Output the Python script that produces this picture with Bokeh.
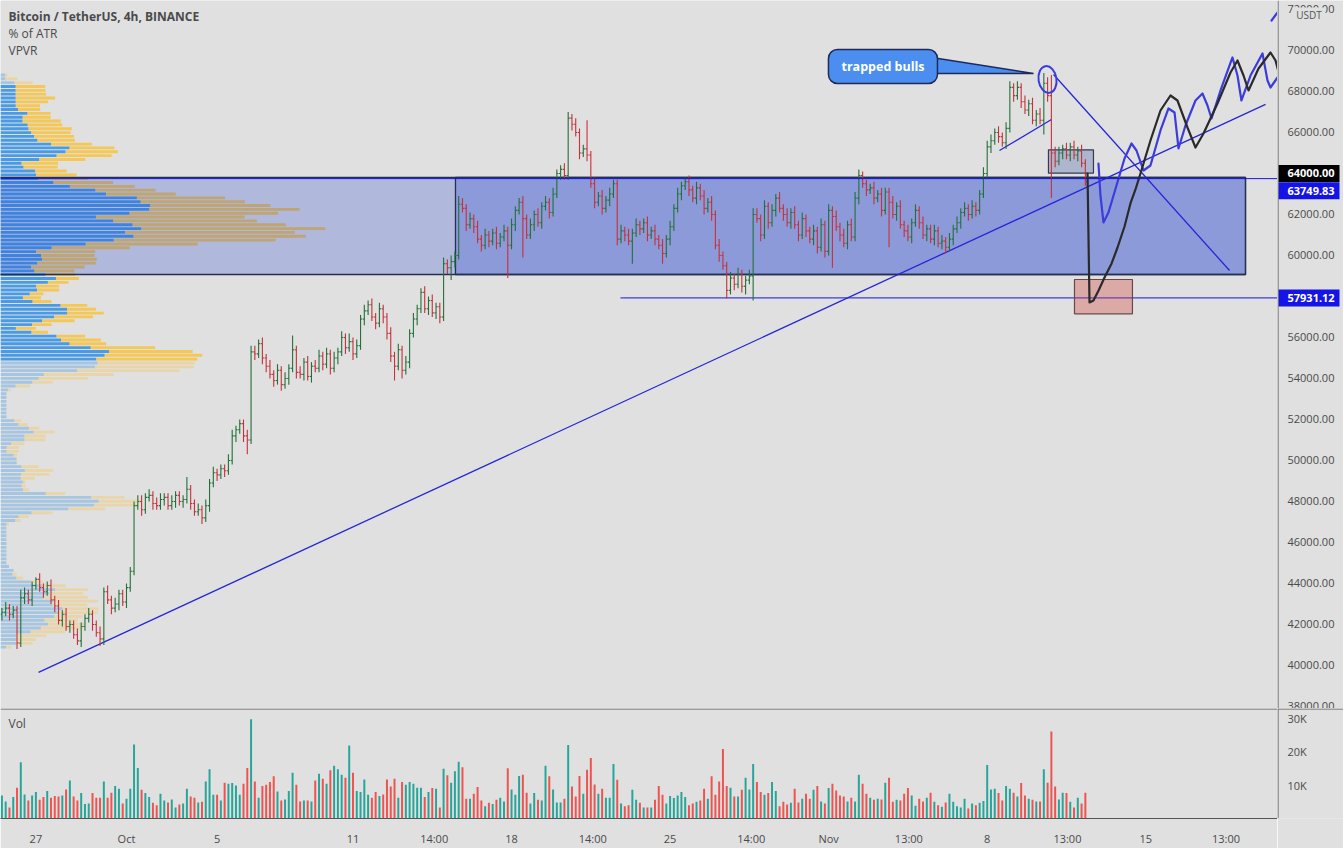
import numpy as np
from bokeh.plotting import figure
from bokeh.models import Range1d, FixedTicker, Label, ColumnDataSource, Span
from bokeh.layouts import column, row
from bokeh.embed import file_html
from bokeh.resources import INLINE

# ------------------------------------------------------------------ data
# time axis: hours from 1 Oct 00:00, one bar every 4 hours
bar_start_hour = -132
bar_step_hours = 4
open_first_k = 42.5

close_k = [
    42.6, 42.8, 42.5, 42.7, 41.1, 43.3, 43.5, 43.2, 43.9, 44.2,
    43.8, 43.6, 43.9, 43.2, 42.9, 42.2, 42.5, 41.9, 42.0, 41.5,
    41.2, 41.9, 42.3, 42.5, 42.0, 41.6, 41.3, 43.6, 43.2, 42.8,
    43.0, 43.5, 43.1, 43.8, 44.6, 47.8, 48.0, 47.6, 48.2, 48.3,
    47.9, 47.8, 48.1, 48.2, 47.8, 48.0, 48.3, 48.0, 48.1, 48.6,
    47.9, 47.5, 47.6, 47.2, 47.8, 48.9, 49.4, 49.3, 49.6, 49.5,
    50.0, 51.2, 51.5, 51.8, 51.2, 51.0, 55.3, 55.2, 55.7, 55.0,
    54.6, 54.2, 53.9, 54.4, 53.7, 54.0, 54.5, 55.4, 54.3, 54.2,
    54.8, 54.1, 54.6, 54.5, 55.1, 54.7, 55.2, 54.5, 55.0, 55.3,
    56.0, 55.5, 55.8, 55.2, 55.6, 56.9, 57.3, 57.6, 57.0, 56.7,
    57.4, 57.0, 56.2, 55.1, 54.6, 55.4, 54.4, 54.8, 56.2, 56.9,
    57.4, 58.2, 57.4, 57.8, 57.2, 57.5, 57.0, 59.6, 59.4, 59.7,
    60.0, 62.5, 62.3, 61.5, 61.8, 61.4, 60.8, 60.5, 61.0, 60.7,
    61.1, 60.6, 60.9, 61.2, 60.5, 61.5, 62.2, 62.6, 61.8, 61.0,
    61.5, 62.0, 61.6, 62.4, 62.6, 62.1, 63.0, 64.0, 64.2, 63.9,
    66.7, 66.4, 66.0, 65.0, 65.2, 64.9, 63.5, 62.6, 62.9, 62.3,
    62.7, 63.0, 63.5, 60.8, 61.2, 61.0, 60.7, 61.1, 61.5, 61.3,
    61.6, 61.0, 61.2, 60.8, 60.5, 60.1, 60.8, 61.4, 62.3, 63.0,
    63.4, 63.6, 63.2, 62.8, 63.3, 62.9, 62.3, 62.6, 62.0, 60.5,
    60.0, 59.5, 58.3, 58.9, 58.6, 59.1, 58.5, 58.8, 59.0, 62.0,
    61.8, 61.0, 62.4, 61.6, 62.2, 62.8, 62.3, 62.0, 61.6, 62.1,
    61.5, 61.0, 61.8, 61.2, 60.8, 61.2, 60.4, 61.5, 60.2, 62.2,
    61.9, 61.4, 61.0, 60.6, 61.5, 60.9, 62.8, 63.9, 63.5, 63.2,
    63.3, 62.8, 63.0, 62.2, 63.1, 62.6, 62.0, 62.4, 61.5, 61.2,
    60.9, 61.6, 62.2, 61.6, 61.0, 61.3, 60.8, 61.2, 60.6, 60.7,
    60.4, 60.8, 61.3, 61.6, 62.1, 62.3, 62.0, 62.4, 62.2, 63.0,
    64.0, 65.3, 65.6, 66.0, 65.8, 65.5, 66.2, 68.2, 67.8, 68.2,
    67.5, 67.1, 67.4, 66.6, 66.9, 66.6, 68.4, 67.8, 65.0, 64.6,
    65.0, 65.2, 64.9, 65.3, 64.9, 65.1, 64.5, 63.6,
]

wick_up_k = [
    0.2, 0.3, 0.2, 0.2, 0.2, 0.4, 0.3, 0.2, 0.2, 0.1,
    0.3, 0.2, 0.2, 0.3, 0.2, 0.3, 0.2, 0.3, 0.2, 0.2,
    0.3, 0.2, 0.2, 0.3, 0.2, 0.2, 0.3, 0.2, 0.3, 0.2,
    0.3, 0.2, 0.2, 0.2, 0.2, 0.2, 0.3, 0.3, 0.2, 0.3,
    0.2, 0.3, 0.3, 0.2, 0.2, 0.3, 0.2, 0.2, 0.2, 0.6,
    0.2, 0.2, 0.3, 0.2, 0.3, 0.2, 0.3, 0.2, 0.2, 0.2,
    0.3, 0.3, 0.2, 0.2, 0.2, 0.3, 0.3, 0.3, 0.2, 0.3,
    0.2, 0.3, 0.2, 0.3, 0.2, 0.3, 0.2, 0.7, 0.2, 0.3,
    0.2, 0.3, 0.2, 0.3, 0.3, 0.2, 0.3, 0.2, 0.3, 0.2,
    0.3, 0.2, 0.4, 0.2, 0.3, 0.2, 0.3, 0.2, 0.3, 0.2,
    0.3, 0.2, 0.2, 0.3, 0.2, 0.3, 0.2, 0.3, 0.2, 0.3,
    0.2, 0.2, 0.3, 0.2, 0.3, 0.2, 0.2, 0.3, 0.2, 0.3,
    0.2, 0.4, 0.3, 0.2, 0.3, 0.2, 0.3, 0.2, 0.3, 0.2,
    0.2, 0.3, 0.2, 0.3, 0.2, 0.3, 0.2, 0.2, 0.3, 0.2,
    0.3, 0.2, 0.3, 0.2, 0.3, 0.2, 0.3, 0.2, 0.2, 0.3,
    0.3, 0.2, 0.3, 0.2, 0.2, 1.4, 0.2, 0.3, 0.2, 0.3,
    0.2, 0.3, 0.2, 0.2, 0.3, 0.2, 0.3, 0.2, 0.3, 0.2,
    0.2, 0.3, 0.2, 0.3, 0.2, 0.3, 0.2, 0.3, 0.2, 0.3,
    0.2, 0.2, 0.3, 0.2, 0.3, 0.2, 0.3, 0.2, 0.3, 0.2,
    0.3, 0.2, 0.2, 0.3, 0.2, 0.3, 0.2, 0.2, 0.3, 0.3,
    0.3, 0.2, 0.3, 0.2, 0.3, 0.2, 0.3, 0.2, 0.3, 0.2,
    0.3, 0.2, 0.3, 0.2, 0.2, 0.3, 0.2, 0.3, 0.2, 0.3,
    0.2, 0.3, 0.2, 0.3, 0.2, 0.3, 0.3, 0.3, 0.2, 0.2,
    0.2, 0.3, 0.2, 0.3, 0.2, 0.2, 0.3, 0.2, 0.3, 0.2,
    0.3, 0.2, 0.3, 0.2, 0.3, 0.2, 0.2, 0.3, 0.2, 0.3,
    0.2, 0.3, 0.2, 0.3, 0.2, 0.3, 0.2, 0.3, 0.2, 0.2,
    0.3, 0.3, 0.3, 0.2, 0.3, 0.2, 0.3, 0.3, 0.2, 0.3,
    0.2, 0.3, 0.2, 0.3, 0.2, 0.3, 0.5, 0.3, 1.0, 0.3,
    0.3, 0.2, 0.3, 0.2, 0.3, 0.2, 0.3, 0.2,
]

wick_dn_k = [
    0.3, 0.2, 0.3, 0.2, 0.3, 0.2, 0.3, 0.2, 0.3, 0.2,
    0.2, 0.3, 0.2, 0.2, 0.3, 0.2, 0.3, 0.2, 0.3, 0.2,
    0.2, 0.3, 0.2, 0.2, 0.3, 0.2, 0.35, 0.3, 0.2, 0.3,
    0.2, 0.3, 0.2, 0.3, 0.2, 0.2, 0.2, 0.3, 0.2, 0.2,
    0.3, 0.2, 0.2, 0.3, 0.2, 0.2, 0.3, 0.2, 0.3, 0.2,
    0.3, 0.2, 0.2, 0.3, 0.2, 0.3, 0.2, 0.3, 0.2, 0.3,
    0.2, 0.2, 0.3, 0.2, 0.3, 0.7, 0.2, 0.3, 0.2, 0.3,
    0.3, 0.2, 0.3, 0.2, 0.3, 0.2, 0.3, 0.2, 0.3, 0.2,
    0.3, 0.2, 0.3, 0.2, 0.2, 0.3, 0.2, 0.3, 0.2, 0.3,
    0.2, 0.3, 0.2, 0.3, 0.2, 0.2, 0.3, 0.2, 0.2, 0.3,
    0.2, 0.3, 0.3, 0.3, 0.7, 0.2, 0.4, 0.2, 0.3, 0.2,
    0.3, 0.2, 0.2, 0.3, 0.2, 0.3, 0.3, 0.2, 0.3, 0.6,
    0.3, 0.2, 0.2, 0.3, 0.2, 0.3, 0.2, 0.3, 0.2, 0.3,
    0.2, 0.3, 0.2, 0.2, 1.6, 0.2, 0.3, 0.2, 1.9, 0.2,
    0.2, 0.3, 0.2, 0.3, 0.2, 0.3, 0.2, 0.2, 0.3, 0.2,
    0.2, 0.3, 0.2, 0.3, 0.2, 0.3, 0.2, 0.3, 0.2, 0.3,
    0.2, 0.3, 0.2, 0.3, 0.2, 0.3, 0.2, 1.1, 0.2, 0.3,
    0.2, 0.3, 0.2, 0.3, 0.2, 0.5, 0.2, 0.3, 0.2, 0.2,
    0.3, 0.2, 0.3, 0.2, 0.3, 0.2, 0.3, 0.2, 0.3, 0.2,
    0.3, 0.2, 0.4, 0.2, 0.3, 0.2, 0.3, 0.4, 0.2, 1.2,
    0.2, 0.3, 0.2, 0.3, 0.2, 0.3, 0.2, 0.3, 0.2, 0.3,
    0.2, 0.3, 0.2, 0.3, 0.2, 0.3, 0.3, 0.2, 0.3, 0.2,
    2.5, 0.2, 0.3, 0.2, 0.3, 0.2, 0.2, 0.3, 0.2, 0.3,
    0.2, 0.3, 0.2, 0.3, 0.2, 2.2, 0.2, 0.3, 0.2, 0.3,
    0.2, 0.3, 0.2, 0.3, 0.2, 0.3, 0.2, 0.3, 0.2, 0.3,
    0.3, 0.2, 0.3, 0.2, 0.3, 0.2, 0.3, 0.2, 0.3, 0.2,
    0.2, 0.2, 0.3, 0.2, 0.3, 0.2, 0.3, 0.2, 0.3, 0.2,
    0.3, 0.2, 0.3, 0.2, 0.3, 0.2, 0.7, 0.3, 2.2, 0.3,
    0.2, 0.3, 0.2, 0.3, 0.2, 0.3, 0.2, 0.2,
]

volume_k = [
    6.9, 5.1, 3.3, 6.4, 9.2, 16.8, 7.2, 5.4, 6.9, 7.9,
    5.6, 6.4, 8.2, 6.2, 6.7, 6.6, 6.9, 8.7, 11.4, 6.6,
    5.4, 7.6, 4.3, 4.5, 7.6, 6.2, 6.2, 11.1, 6.2, 7.7,
    9.7, 8.9, 4.5, 5.9, 8.9, 22.1, 15.1, 8.6, 7.6, 6.4,
    4.7, 4.0, 7.4, 5.4, 4.8, 5.7, 3.3, 4.2, 4.5, 8.9,
    6.6, 6.2, 4.8, 5.0, 11.1, 14.7, 7.1, 7.1, 5.4, 10.7,
    10.4, 10.6, 9.9, 7.1, 10.4, 15.1, 29.7, 11.1, 6.2, 9.7,
    10.1, 10.9, 12.6, 8.1, 5.4, 5.7, 8.2, 13.7, 10.1, 5.1,
    5.4, 5.4, 5.1, 11.4, 13.4, 11.9, 10.4, 14.4, 15.8, 14.7,
    13.1, 12.2, 21.8, 13.7, 8.2, 7.9, 11.7, 7.1, 6.2, 7.9,
    6.7, 7.2, 11.7, 9.6, 11.9, 6.2, 10.9, 10.1, 10.9, 10.4,
    9.2, 9.2, 6.4, 7.9, 9.1, 8.9, 3.3, 14.9, 12.9,
    10.7, 14.1, 17.0, 15.3, 5.9, 5.9, 7.4, 9.4, 5.4, 3.7,
    4.7, 4.3, 5.6, 6.2, 5.1, 15.0, 8.7, 7.1, 12.7, 13.1,
    7.7, 4.5, 7.6, 5.6, 5.4, 15.8, 12.6, 8.7, 4.8, 4.8,
    5.9, 22.0, 9.6, 6.6, 12.7, 7.4, 14.6, 18.1, 10.2, 7.4,
    8.9, 6.2, 6.2, 16.3, 11.6, 4.5, 3.7, 4.0, 8.6, 5.6,
    4.7, 3.3, 3.3, 3.3, 5.6, 9.7, 7.1, 4.5, 6.7, 6.1,
    6.9, 7.9, 6.4, 4.0, 4.5, 5.0, 5.4, 8.9, 5.9, 12.6,
    7.1, 11.1, 20.8, 9.7, 9.2, 6.6, 6.6, 8.6, 12.2, 8.7,
    16.3, 10.9, 7.9, 7.1, 7.6, 10.9, 8.2, 3.7, 5.0, 4.2,
    4.7, 8.9, 4.8, 5.9, 7.4, 5.9, 8.6, 9.7, 5.1, 4.5,
    9.1, 10.4, 8.4, 6.9, 6.6, 5.1, 6.2, 5.1, 13.1, 10.4,
    7.4, 6.2, 5.6, 5.9, 5.7, 10.7, 12.2, 5.0, 5.6,
    5.4, 7.4, 9.1, 6.9, 3.8, 5.9, 5.1, 6.2, 7.7, 5.0,
    4.0, 3.5, 4.8, 7.4, 5.0, 3.7, 3.3, 5.9, 3.0, 4.5,
    4.0, 4.7, 5.2, 16.0, 8.7, 8.9, 7.6, 5.4, 9.7, 8.9,
    7.7, 6.6, 10.6, 6.9, 5.9, 5.6, 5.1, 5.1, 14.7, 10.7,
    26.0, 9.6, 5.7, 7.7, 7.6, 5.0, 3.3, 6.2, 4.5, 7.7,
]

price_ticks = [38000, 40000, 42000, 44000, 46000, 48000, 50000, 52000, 54000,
               56000, 60000, 62000, 66000, 68000, 70000, 72000]
x_tick_hours = [-96, 0, 96, 240, 326, 408, 494, 576, 662, 744, 829, 912, 997, 1080, 1165]
x_tick_labels = ["27", "Oct", "5", "11", "14:00", "18", "14:00", "25", "14:00", "Nov",
                 "13:00", "8", "13:00", "15", "13:00"]
vol_ticks = [10000, 20000, 30000]
vol_tick_labels = ["10K", "20K", "30K"]
currency_label = "USDT"

round_level = 64000.00
range_high_level = 63749.83
support_level = 57931.12

# drawings (hours, price)
trend_long_h = [-93.2, 1206.9]
trend_long_p = [39660, 67370]
trend_small_h = [925.0, 980.1]
trend_small_p = [65122, 66634]
trend_down_h = [982.3, 1168.8]
trend_down_p = [68829, 59268]
support_start_h = 523.4
zone_outer_h = [-200.0, 1185.7]
zone_inner_h = [348.6, 1185.7]
zone_p = [59073, 63805]
consol_h = [976.9, 1024.6]
consol_p = [64015, 65156]
target_h = [1004.5, 1065.9]
target_p = [57156, 58829]
callout_h = [743.8, 859.3]
callout_p = [68390, 70049]
callout_tail_h = [846.6, 961.1, 846.6]
callout_tail_p = [69707, 68878, 68878]
callout_text = "trapped bulls"
callout_text_hp = [801.6, 69219]
circle_hp = [975.9, 68585]
circle_size = [19.0, 1320]
black_path_h = [1018.3, 1020.4, 1024.6, 1030.0, 1036.3, 1043.8, 1050.1, 1057.5, 1063.8,
                1069.1, 1074.4, 1085.0, 1095.6, 1106.2, 1113.6, 1124.2, 1132.7, 1141.2,
                1156.0, 1169.8, 1177.2, 1183.6, 1188.9, 1199.5, 1212.2, 1217.5, 1221.7]
black_path_p = [64000, 57707, 57805, 58290, 58927, 59610, 60390, 61415, 62537,
                63220, 64000, 65610, 67073, 67805, 67561, 66244, 65268, 65951,
                67415, 68927, 69512, 68780, 68049, 69122, 69902, 69512, 68780]
blue_path_h = [1029.9, 1032.0, 1035.2, 1040.5, 1049.0, 1057.5, 1064.9, 1070.2, 1077.6,
               1085.0, 1095.6, 1104.1, 1110.5, 1114.7, 1122.1, 1132.7, 1140.1, 1145.4,
               1149.7, 1159.2, 1171.9, 1177.2, 1181.4, 1191.0, 1203.7, 1209.0, 1212.2, 1219.6]
blue_path_p = [64488, 62927, 61610, 62098, 63415, 64732, 65463, 65122, 64146,
               64390, 66098, 67171, 66976, 65220, 66341, 67561, 67902, 67317,
               66683, 68049, 69659, 68780, 67561, 68780, 69854, 68537, 68195, 68683]
blue_top_h = [1213.3, 1222.8]
blue_top_p = [71463, 72049]

vp_rows = 150
value_area_share = 0.70

# ------------------------------------------------------------------ style
BG = "#e0e0e0"
PLOT_W = 1277
SCALE_W = 66
PRICE_H = 708
VOL_H = 140
VOL_AXIS_H = 28
FONT = "Open Sans"
AXIS_TXT = "#4a4a4a"
LINE_GREY = "#555555"
UP_BAR = "#23703a"
DN_BAR = "#c8303a"
UP_VOL = "#26a69a"
DN_VOL = "#ef5350"
DRAW_BLUE = "#2626d9"
LEVEL_BLUE = "#1414e6"
TAG_SHIFT_PX = [0, -12, 0]      # price tags pushed apart on the scale

X_START, X_END = -133.5, 1219.6
P_START, P_END = 37902, 72439
V_END = 32900
x_range = Range1d(X_START, X_END)
price_range = Range1d(P_START, P_END)
vol_range = Range1d(0, V_END)
price_per_px = (P_END - P_START) / PRICE_H
vol_per_px = V_END / (VOL_H - VOL_AXIS_H)

# ------------------------------------------------------------------ derived series
n = len(close_k)
assert len(wick_up_k) == n and len(wick_dn_k) == n and len(volume_k) == n
xs = bar_start_hour + bar_step_hours * np.arange(n)
close = np.array(close_k) * 1000.0
opn = np.concatenate([[open_first_k], close_k[:-1]]) * 1000.0
high = np.maximum(opn, close) + np.array(wick_up_k) * 1000.0
low = np.minimum(opn, close) - np.array(wick_dn_k) * 1000.0
vol = np.array(volume_k) * 1000.0
up = close >= opn

# volume profile of the visible range, built from the bars
edges = np.linspace(low.min(), high.max(), vp_rows + 1)
ov = np.clip(np.minimum(high[:, None], edges[None, 1:]) - np.maximum(low[:, None], edges[None, :-1]), 0, None)
share = ov / (high - low)[:, None] * vol[:, None]
vp_up = (share * up[:, None]).sum(axis=0)
vp_dn = (share * (~up)[:, None]).sum(axis=0)
vp_tot = vp_up + vp_dn
poc = int(np.argmax(vp_tot))
lo_i = hi_i = poc
acc = vp_tot[poc]
target = value_area_share * vp_tot.sum()
while acc < target:
    a = vp_tot[hi_i + 1] if hi_i + 1 < vp_rows else -1
    b = vp_tot[lo_i - 1] if lo_i > 0 else -1
    if a >= b:
        hi_i += 1
        acc += a
    else:
        lo_i -= 1
        acc += b
idx = np.arange(vp_rows)
in_va = (idx >= lo_i) & (idx <= hi_i)
VP_MAX_HOURS = 344.0
scale = VP_MAX_HOURS / vp_tot.max()
row_h = edges[1] - edges[0]
vp_src = ColumnDataSource(dict(
    y=(edges[:-1] + edges[1:]) / 2,
    l0=np.full(vp_rows, X_START),
    m=X_START + vp_up * scale,
    r=X_START + vp_tot * scale,
    a=np.where(in_va, 0.78, 0.30),
))


def bare(width, height, xr, yr, bottom=0):
    f = figure(width=width, height=height, output_backend="svg", toolbar_location=None,
               x_range=xr, y_range=yr, x_axis_location=None, y_axis_location=None,
               min_border_left=0, min_border_right=0, min_border_top=0, min_border_bottom=bottom,
               background_fill_color=BG, border_fill_color=BG)
    f.outline_line_color = None
    f.grid.grid_line_color = None
    return f


# ------------------------------------------------------------------ price pane
p = bare(PLOT_W, PRICE_H, x_range, price_range)

# VPVR
p.hbar(y="y", height=row_h * 0.75, left="l0", right="m", source=vp_src,
       fill_color="#1e88e5", fill_alpha="a", line_color=None)
p.hbar(y="y", height=row_h * 0.75, left="m", right="r", source=vp_src,
       fill_color="#fbc02d", fill_alpha="a", line_color=None)

# zones
p.quad(left=zone_outer_h[0], right=zone_outer_h[1], bottom=zone_p[0], top=zone_p[1],
       fill_color="#2040d0", fill_alpha=0.25, line_color="#25304f", line_width=1.3)
p.quad(left=zone_inner_h[0], right=zone_inner_h[1], bottom=zone_p[0], top=zone_p[1],
       fill_color="#2040d0", fill_alpha=0.25, line_color="#25304f", line_width=1.3)
p.quad(left=consol_h[0], right=consol_h[1], bottom=consol_p[0], top=consol_p[1],
       fill_color="#2a4a9a", fill_alpha=0.28, line_color="#333a55", line_width=1.2)

# horizontal levels
p.add_layout(Span(location=range_high_level, dimension="width", line_color=LEVEL_BLUE, line_width=1))
p.segment(x0=[support_start_h], y0=[support_level], x1=[X_END + 50], y1=[support_level],
          line_color=LEVEL_BLUE, line_width=1)
p.quad(left=target_h[0], right=target_h[1], bottom=target_p[0], top=target_p[1],
       fill_color="#d4463a", fill_alpha=0.35, line_color="#6b4848", line_width=1.2)

# trend lines
p.line(trend_long_h, trend_long_p, line_color=DRAW_BLUE, line_width=1.3)
p.line(trend_small_h, trend_small_p, line_color=DRAW_BLUE, line_width=1.3)
p.line(trend_down_h, trend_down_p, line_color=DRAW_BLUE, line_width=1.3)

# OHLC bars
bar_src = ColumnDataSource(dict(
    x=xs, lo=low, hi=high, o=opn, c=close,
    xl=xs - 1.7, xr=xs + 1.7,
    col=np.where(up, UP_BAR, DN_BAR),
))
p.segment(x0="x", y0="lo", x1="x", y1="hi", line_color="col", line_width=1.1, source=bar_src)
p.segment(x0="xl", y0="o", x1="x", y1="o", line_color="col", line_width=1.1, source=bar_src)
p.segment(x0="x", y0="c", x1="xr", y1="c", line_color="col", line_width=1.1, source=bar_src)

# forecast sketches
p.line(blue_path_h, blue_path_p, line_color="#3c3cdc", line_width=2.2, line_join="round", line_cap="round")
p.line(blue_top_h, blue_top_p, line_color="#3c3cdc", line_width=2.2, line_cap="round")
p.line(black_path_h, black_path_p, line_color="#2a2a2a", line_width=2.2, line_join="round", line_cap="round")
p.ellipse(x=[circle_hp[0]], y=[circle_hp[1]], width=circle_size[0], height=circle_size[1],
          angle=0.15, fill_color=None, line_color="#3c3cdc", line_width=2)

# callout
p.patch(callout_tail_h, callout_tail_p, fill_color="#4b8ef0", line_color="#1e2a5c", line_width=1.5)
p.quad(left=callout_h[0], right=callout_h[1], bottom=callout_p[0], top=callout_p[1],
       fill_color="#4b8ef0", line_color="#1e2a5c", line_width=1.5, border_radius=9)
p.add_layout(Label(x=callout_text_hp[0], y=callout_text_hp[1], text=callout_text,
                   text_color="white", text_font=FONT, text_font_size="12.5px",
                   text_font_style="bold", text_align="center", text_baseline="middle"))

# legend texts
for i, (t, sz, st) in enumerate([("Bitcoin / TetherUS, 4h, BINANCE", "12px", "bold"),
                                  ("% of ATR", "12px", "normal"), ("VPVR", "12px", "normal")]):
    p.add_layout(Label(x=8, y=PRICE_H - 16 - 17 * i, x_units="screen", y_units="screen", text=t,
                       text_color="#4a4a4a", text_font=FONT, text_font_size=sz,
                       text_font_style=st, text_baseline="middle"))

# ------------------------------------------------------------------ price scale
ps = bare(SCALE_W, PRICE_H, Range1d(0, SCALE_W), price_range)
ps.add_layout(Span(location=0.5, dimension="height", line_color=LINE_GREY, line_width=1))
ps.text(x=10, y=price_ticks, text=[f"{t:.2f}" for t in price_ticks],
        text_color=AXIS_TXT, text_font={"value": FONT}, text_font_size="11px",
        text_baseline="middle")
# currency tag over the top tick
cur_y = P_END - 14 * price_per_px
ps.quad(left=[15], right=[48], bottom=[cur_y - 7 * price_per_px], top=[cur_y + 7 * price_per_px],
        fill_color=BG, line_color=None)
ps.text(x=[31.5], y=[cur_y], text=[currency_label], text_color="#555555",
        text_font={"value": FONT}, text_font_size="10px", text_align="center",
        text_baseline="middle")
# price tags
levels = [round_level, range_high_level, support_level]
tag_y = [lv + s * price_per_px for lv, s in zip(levels, TAG_SHIFT_PX)]
tag_colors = ["#000000", LEVEL_BLUE, LEVEL_BLUE]
ps.quad(left=1, right=62, bottom=[y - 8.5 * price_per_px for y in tag_y],
        top=[y + 8.5 * price_per_px for y in tag_y], fill_color=tag_colors, line_color=None)
ps.text(x=10, y=tag_y, text=[f"{lv:.2f}" for lv in levels], text_color="white",
        text_font={"value": FONT}, text_font_size="11px", text_font_style="bold",
        text_baseline="middle")

# ------------------------------------------------------------------ volume pane
pv = bare(PLOT_W, VOL_H, x_range, vol_range, bottom=VOL_AXIS_H)
pv.add_layout(Span(location=V_END - 0.5 * vol_per_px, dimension="width", line_color=LINE_GREY, line_width=1))
vsrc = ColumnDataSource(dict(x=xs, v=vol, col=np.where(up, UP_VOL, DN_VOL)))
pv.vbar(x="x", width=2.1, top="v", bottom=0, fill_color="col", line_color=None, source=vsrc)
pv.xaxis.visible = True
from bokeh.models import LinearAxis
vx = LinearAxis(ticker=FixedTicker(ticks=x_tick_hours))
vx.major_label_overrides = dict(zip(x_tick_hours, x_tick_labels))
vx.major_tick_line_color = None
vx.minor_tick_line_color = None
vx.axis_line_color = LINE_GREY
vx.major_label_text_color = AXIS_TXT
vx.major_label_text_font = FONT
vx.major_label_text_font_size = "11px"
vx.major_label_standoff = 6
pv.add_layout(vx, "below")
pv.add_layout(Label(x=8, y=VOL_H - VOL_AXIS_H - 17, x_units="screen", y_units="screen", text="Vol",
                    text_color="#4a4a4a", text_font=FONT, text_font_size="12px",
                    text_baseline="middle"))

# ------------------------------------------------------------------ volume scale
vs = bare(SCALE_W, VOL_H, Range1d(0, SCALE_W), vol_range, bottom=VOL_AXIS_H)
vs.add_layout(Span(location=0.5, dimension="height", line_color=LINE_GREY, line_width=1))
vs.add_layout(Span(location=V_END - 0.5 * vol_per_px, dimension="width", line_color=LINE_GREY, line_width=1))
vs.text(x=10, y=vol_ticks, text=vol_tick_labels, text_color=AXIS_TXT,
        text_font={"value": FONT}, text_font_size="11px", text_baseline="middle")

layout = column(row(p, ps, spacing=0), row(pv, vs, spacing=0), spacing=0)
open("out.html", "w").write(file_html(layout, INLINE))
